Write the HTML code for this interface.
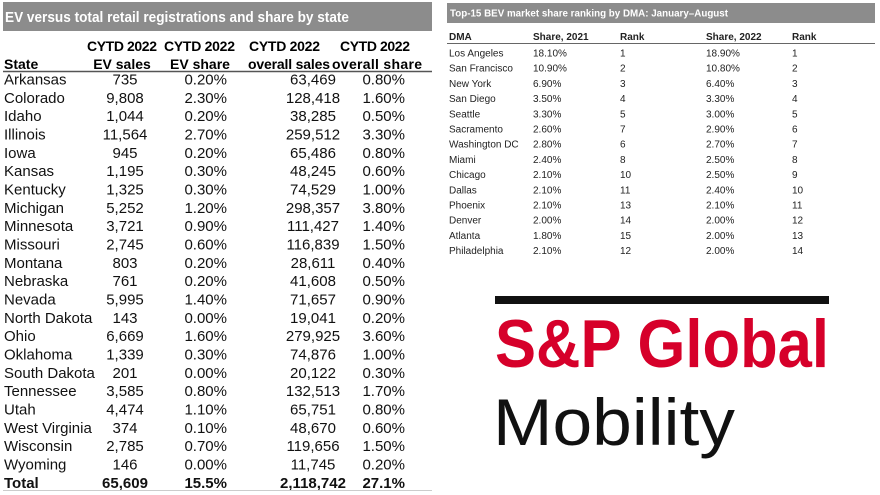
<!DOCTYPE html>
<html><head><meta charset="utf-8"><style>
html,body{margin:0;padding:0;background:#fff;}
svg{display:block;font-family:"Liberation Sans",Arial,sans-serif;}
</style></head><body>
<svg width="880" height="495" viewBox="0 0 880 495" xmlns="http://www.w3.org/2000/svg">
<rect x="3" y="2" width="429" height="29" fill="#8c8c8c"/>
<text x="5" y="22" font-size="15" font-weight="bold" fill="#fff" textLength="344" lengthAdjust="spacingAndGlyphs">EV versus total retail registrations and share by state</text>
<g font-size="14" font-weight="bold" fill="#000" lengthAdjust="spacingAndGlyphs">
<text x="4" y="69">State</text>
<text x="87" y="51" textLength="70">CYTD 2022</text>
<text x="122" y="69" text-anchor="middle">EV sales</text>
<text x="164" y="51" textLength="71">CYTD 2022</text>
<text x="200" y="69" text-anchor="middle">EV share</text>
<text x="249" y="51" textLength="71">CYTD 2022</text>
<text x="248" y="69" textLength="82">overall sales</text>
<text x="340" y="51" textLength="70">CYTD 2022</text>
<text x="332" y="69" textLength="90">overall share</text>
</g>
<line x1="3" y1="71.5" x2="432" y2="71.5" stroke="#555" stroke-width="1.5"/>
<g font-size="15" fill="#111" id="rows"></g>
<line x1="3" y1="490.5" x2="432" y2="490.5" stroke="#ccc" stroke-width="1"/>
<rect x="447" y="3" width="428" height="20" fill="#8c8c8c"/>
<text x="450" y="16.5" font-size="10.5" font-weight="bold" fill="#fff" textLength="278" lengthAdjust="spacingAndGlyphs">Top-15 BEV market share ranking by DMA: January–August</text>
<g font-size="10" font-weight="bold" fill="#222">
<text x="449" y="40">DMA</text>
<text x="533" y="40">Share, 2021</text>
<text x="620" y="40">Rank</text>
<text x="706" y="40">Share, 2022</text>
<text x="792" y="40">Rank</text>
</g>
<line x1="447" y1="43.5" x2="875" y2="43.5" stroke="#666" stroke-width="1"/>
<g font-size="10" fill="#222" id="rrows"></g>
<rect x="495" y="296" width="334" height="8" fill="#111"/>
<text x="495" y="367" font-size="68" font-weight="bold" fill="#d6002a" textLength="334" lengthAdjust="spacingAndGlyphs">S&amp;P Global</text>
<text x="493" y="445" font-size="66" fill="#111" textLength="242" lengthAdjust="spacingAndGlyphs" stroke="#fff" stroke-width="2.4" paint-order="stroke">Mobility</text>
<script>
(function(){
var d=[["Arkansas","735","0.20%","63,469","0.80%"],["Colorado","9,808","2.30%","128,418","1.60%"],["Idaho","1,044","0.20%","38,285","0.50%"],["Illinois","11,564","2.70%","259,512","3.30%"],["Iowa","945","0.20%","65,486","0.80%"],["Kansas","1,195","0.30%","48,245","0.60%"],["Kentucky","1,325","0.30%","74,529","1.00%"],["Michigan","5,252","1.20%","298,357","3.80%"],["Minnesota","3,721","0.90%","111,427","1.40%"],["Missouri","2,745","0.60%","116,839","1.50%"],["Montana","803","0.20%","28,611","0.40%"],["Nebraska","761","0.20%","41,608","0.50%"],["Nevada","5,995","1.40%","71,657","0.90%"],["North Dakota","143","0.00%","19,041","0.20%"],["Ohio","6,669","1.60%","279,925","3.60%"],["Oklahoma","1,339","0.30%","74,876","1.00%"],["South Dakota","201","0.00%","20,122","0.30%"],["Tennessee","3,585","0.80%","132,513","1.70%"],["Utah","4,474","1.10%","65,751","0.80%"],["West Virginia","374","0.10%","48,670","0.60%"],["Wisconsin","2,785","0.70%","119,656","1.50%"],["Wyoming","146","0.00%","11,745","0.20%"],["Total","65,609","15.5%","2,118,742","27.1%"]];
var ns="http://www.w3.org/2000/svg",g=document.getElementById("rows");
function t(p,x,y,s,a,b){var e=document.createElementNS(ns,"text");e.setAttribute("x",x);e.setAttribute("y",y);if(a)e.setAttribute("text-anchor",a);if(b)e.setAttribute("font-weight","bold");e.textContent=s;p.appendChild(e);}
d.forEach(function(r,i){var y=84.5+i*18.33;var b=i==22;
t(g,4,y,r[0],null,b);t(g,125,y,r[1],"middle",b);t(g,227,y,r[2],"end",b);t(g,313,y,r[3],"middle",b);t(g,405,y,r[4],"end",b);});
var rd=[["Los Angeles","18.10%","1","18.90%","1"],["San Francisco","10.90%","2","10.80%","2"],["New York","6.90%","3","6.40%","3"],["San Diego","3.50%","4","3.30%","4"],["Seattle","3.30%","5","3.00%","5"],["Sacramento","2.60%","7","2.90%","6"],["Washington DC","2.80%","6","2.70%","7"],["Miami","2.40%","8","2.50%","8"],["Chicago","2.10%","10","2.50%","9"],["Dallas","2.10%","11","2.40%","10"],["Phoenix","2.10%","13","2.10%","11"],["Denver","2.00%","14","2.00%","12"],["Atlanta","1.80%","15","2.00%","13"],["Philadelphia","2.10%","12","2.00%","14"]];
var rg=document.getElementById("rrows"),xs=[449,533,620,706,792];
rd.forEach(function(r,i){var y=56.5+i*15.2;r.forEach(function(s,j){t(rg,xs[j],y,s);});});
})();
</script>
</svg>
</body></html>
